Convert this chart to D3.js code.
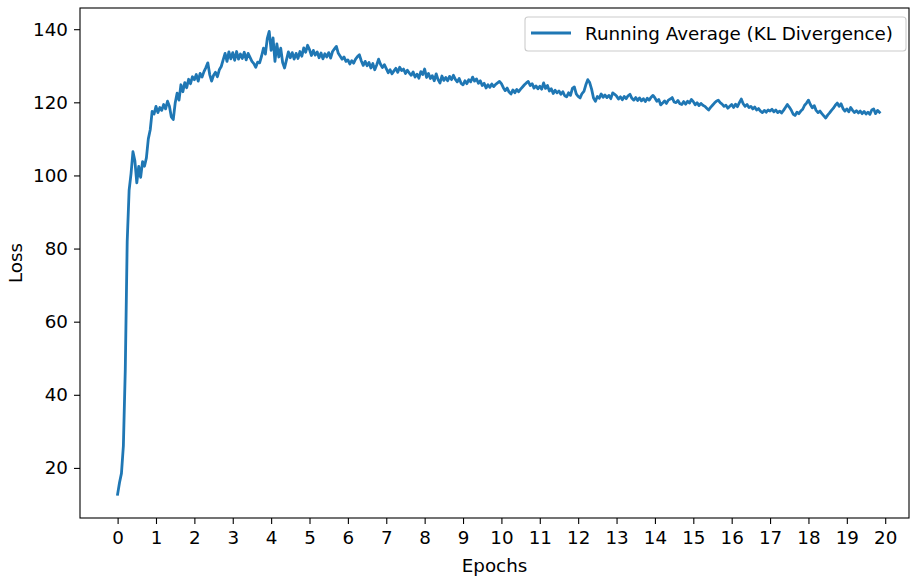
<!DOCTYPE html>
<html>
<head>
<meta charset="utf-8">
<script src="https://cdn.jsdelivr.net/npm/d3@7/dist/d3.min.js"></script>
<style>
  html, body { margin: 0; padding: 0; background: #fff; }
  svg { display: block; }
  text { font-family: "DejaVu Sans", sans-serif; }
</style>
</head>
<body>
<svg id="chart" width="910" height="579"></svg>
<script>
// Running-average KL divergence, sampled every 0.05 epoch (one row per epoch)
const step = 0.05;
const epoch00 = [12.8,16.0,18.5,26.0,47.0,82.0,96.0,100.5,106.5,104.0,98.0,102.5,99.5,103.8,102.5,104.8,110.0,112.5,117.5,116.8];
const epoch01 = [118.9,117.2,118.6,117.8,119.4,118.2,120.3,118.9,116.0,115.3,119.8,122.5,120.6,124.8,122.9,125.4,124.0,126.3,125.1,127.0];
const epoch02 = [126.2,127.6,125.8,127.9,126.9,128.4,129.5,130.8,127.6,125.8,127.4,128.2,127.0,128.9,129.8,131.6,133.4,131.2,133.8,131.9];
const epoch03 = [133.6,131.5,133.9,131.8,133.2,132.0,133.7,131.6,133.4,132.3,131.2,130.6,129.6,131.0,130.8,132.6,134.8,133.2,137.5,139.4];
const epoch04 = [134.2,137.6,131.2,136.0,132.4,134.8,130.9,129.4,131.6,133.8,132.2,133.6,131.8,133.4,132.0,133.9,132.6,134.9,133.7,135.6];
const epoch05 = [134.4,132.8,134.2,132.9,133.8,132.2,133.5,131.9,133.3,132.4,133.6,132.1,133.9,134.6,135.3,133.4,132.6,131.8,132.4,131.2];
const epoch06 = [131.6,130.5,131.4,130.7,131.8,132.5,133.0,131.3,130.1,131.2,130.0,130.9,129.4,130.6,128.9,130.2,131.8,130.4,129.5,130.3];
const epoch07 = [129.2,128.1,128.9,127.8,128.6,129.3,128.2,129.6,128.7,129.1,127.9,128.8,128.0,127.4,128.3,126.9,127.7,126.6,128.4,127.6];
const epoch08 = [129.1,126.8,127.9,126.5,127.3,125.9,127.8,126.2,125.3,127.2,126.0,126.8,125.9,127.1,126.2,127.4,126.3,125.6,126.5,125.2];
const epoch09 = [124.8,125.9,125.1,126.2,125.6,126.9,125.8,126.4,125.2,125.9,124.6,125.2,123.9,124.8,124.1,125.0,124.3,124.9,125.3,125.7];
const epoch10 = [125.1,124.0,123.2,123.9,122.8,122.3,123.4,122.6,123.5,122.9,123.6,124.2,124.8,125.3,125.7,124.6,125.1,123.9,124.5,123.7];
const epoch11 = [124.4,123.6,125.3,123.8,124.6,123.1,123.7,122.4,123.3,122.6,123.1,122.2,122.9,121.8,121.5,122.6,121.9,123.8,124.2,122.3];
const epoch12 = [121.6,121.2,122.4,123.0,124.8,126.2,125.4,123.6,121.2,120.3,121.6,121.1,122.3,121.4,122.0,121.3,121.9,121.0,122.6,122.2];
const epoch13 = [121.7,120.9,121.5,120.7,121.6,121.0,121.8,122.2,121.1,120.6,121.3,120.5,121.2,120.4,121.0,120.2,121.1,120.6,121.4,121.9];
const epoch14 = [121.2,120.3,120.8,119.3,119.8,120.4,119.7,120.6,120.9,121.3,120.1,119.9,120.5,119.6,119.4,120.2,119.5,120.3,119.8,120.8];
const epoch15 = [120.2,119.3,119.9,119.1,119.7,119.2,118.9,118.4,117.9,118.6,119.2,119.8,120.3,120.6,119.9,119.5,118.9,119.2,118.4,118.9];
const epoch16 = [119.4,118.6,119.5,118.8,119.9,120.9,119.6,118.9,119.4,118.6,118.9,118.2,118.7,117.9,118.3,117.6,117.2,117.8,117.3,117.9];
const epoch17 = [117.6,118.1,117.4,117.9,117.2,117.6,117.1,117.8,118.6,119.4,118.7,117.9,116.8,116.4,117.3,116.9,117.6,118.1,119.2,119.8];
const epoch18 = [120.6,119.4,118.5,119.1,117.8,117.2,117.6,116.9,116.3,115.7,116.5,117.1,117.8,118.4,119.2,119.8,118.9,119.6,118.3,117.6];
const epoch19 = [118.2,117.4,118.6,117.8,117.2,117.7,117.1,117.6,116.9,117.5,116.8,117.3,116.7,117.9,118.2,116.9,117.8,117.3];

const epochRows = [epoch00,epoch01,epoch02,epoch03,epoch04,epoch05,epoch06,epoch07,epoch08,epoch09,
                   epoch10,epoch11,epoch12,epoch13,epoch14,epoch15,epoch16,epoch17,epoch18,epoch19];
const xTicks = [0,1,2,3,4,5,6,7,8,9,10,11,12,13,14,15,16,17,18,19,20];
const yTicks = [20,40,60,80,100,120,140];
const seriesName = "Running Average (KL Divergence)";
const xLabel = "Epochs";
const yLabel = "Loss";

const data = [];
epochRows.forEach((row, e) => row.forEach((v, j) => data.push({x: e + j * step, y: v})));

const svg = d3.select("#chart");
const L = 80, R = 909, T = 8, B = 518;
const fs = 18.3;
const x = d3.scaleLinear().domain([-0.98, 20.62]).range([L, R]);
const y = d3.scaleLinear().domain([6.3, 145.8]).range([B, T]);

// line
svg.append("path")
  .datum(data)
  .attr("fill", "none")
  .attr("stroke", "#1f77b4")
  .attr("stroke-width", 2.8)
  .attr("stroke-linejoin", "round")
  .attr("stroke-linecap", "square")
  .attr("d", d3.line().x(d => x(d.x)).y(d => y(d.y)));

// axes
const xAxis = svg.append("g").attr("transform", `translate(0,${B})`)
  .call(d3.axisBottom(x).tickValues(xTicks).tickSize(6).tickPadding(6).tickFormat(d3.format("d")));
const yAxis = svg.append("g").attr("transform", `translate(${L},0)`)
  .call(d3.axisLeft(y).tickValues(yTicks).tickSize(6).tickPadding(6).tickFormat(d3.format("d")));
[xAxis, yAxis].forEach(g => {
  g.select(".domain").remove();
  g.selectAll(".tick line").attr("stroke", "#000").attr("stroke-width", 1.1);
  g.selectAll(".tick text").attr("fill", "#000").style("font-size", fs + "px")
    .style("font-family", "'DejaVu Sans', sans-serif");
});
xAxis.selectAll(".tick text").attr("dy", "0.76em");

// frame
svg.append("rect").attr("x", L).attr("y", T).attr("width", R - L).attr("height", B - T)
  .attr("fill", "none").attr("stroke", "#000").attr("stroke-width", 1.1);

// labels
svg.append("text").attr("x", (L + R) / 2).attr("y", 572).attr("text-anchor", "middle")
  .style("font-size", fs + "px").text(xLabel);
svg.append("text").attr("transform", `translate(22,${(T + B) / 2}) rotate(-90)`)
  .attr("text-anchor", "middle").style("font-size", fs + "px").text(yLabel);

// legend
const lg = svg.append("g");
lg.append("rect").attr("x", 525).attr("y", 17).attr("width", 381).attr("height", 34)
  .attr("rx", 3).attr("fill", "#fff").attr("fill-opacity", 0.8)
  .attr("stroke", "#cccccc").attr("stroke-width", 1.1);
lg.append("line").attr("x1", 531).attr("x2", 571).attr("y1", 33).attr("y2", 33)
  .attr("stroke", "#1f77b4").attr("stroke-width", 2.8);
lg.append("text").attr("x", 585).attr("y", 40).style("font-size", fs + "px").text(seriesName);
</script>
</body>
</html>
